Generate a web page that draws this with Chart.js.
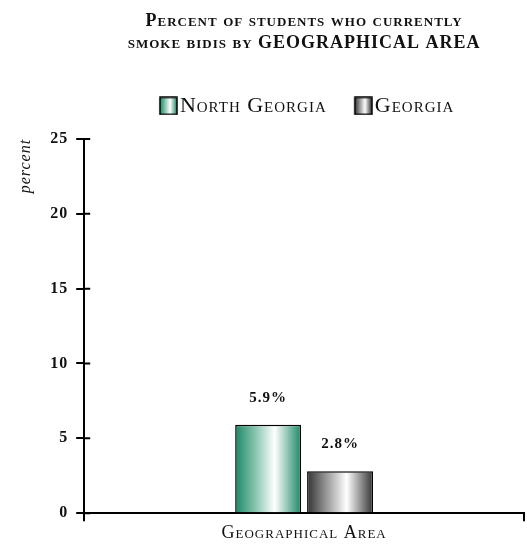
<!DOCTYPE html>
<html>
<head>
<meta charset="utf-8">
<script src="https://cdn.jsdelivr.net/npm/chart.js@4.4.1/dist/chart.umd.min.js"></script>
<style>
  html, body { margin: 0; padding: 0; background: #fff; }
  #wrap { width: 527px; height: 545px; }
</style>
</head>
<body>
<div id="wrap"><canvas id="bidiChart"></canvas></div>
<script>
// data
const areaLabels = ['Geographical Area'];
const northGeorgiaValues = [5.9];
const georgiaValues = [2.8];
const yMin = 0;
const yMax = 25;
const yStep = 5;

const serif = '"Liberation Serif", "DejaVu Serif", serif';

const greenStops = [[0, '#1b8866'], [0.3, '#86c3ad'], [0.6, '#ffffff'], [1, '#1b8866']];
const greyStops = [[0, '#333333'], [0.3, '#9a9a9a'], [0.6, '#ffffff'], [1, '#333333']];

// legend swatch, drawn at the right end of a wider transparent canvas
function legendSwatch(stops) {
  const c = document.createElement('canvas');
  c.width = 33; c.height = 19;
  const g = c.getContext('2d');
  const grad = g.createLinearGradient(15, 0, 32, 0);
  stops.forEach(s => grad.addColorStop(s[0], s[1]));
  g.fillStyle = grad;
  g.fillRect(15, 1, 17, 17);
  g.strokeStyle = '#000';
  g.lineWidth = 1.5;
  g.strokeRect(15, 1, 17, 17);
  return c;
}
const swatches = [legendSwatch(greenStops), legendSwatch(greyStops)];
const stopsByDataset = [greenStops, greyStops];

// wider letter spacing, like the small caps of the original
const spacing = {
  id: 'spacing',
  beforeUpdate(chart) { chart.ctx.letterSpacing = '1px'; },
  beforeLayout(chart) { chart.ctx.letterSpacing = '1px'; },
  beforeDraw(chart) { chart.ctx.letterSpacing = '1px'; }
};

// horizontal shading on each bar
const barShading = {
  id: 'barShading',
  beforeDatasetsDraw(chart) {
    const ctx = chart.ctx;
    chart.data.datasets.forEach((ds, i) => {
      chart.getDatasetMeta(i).data.forEach(bar => {
        const g = ctx.createLinearGradient(bar.x - bar.width / 2, 0, bar.x + bar.width / 2, 0);
        stopsByDataset[i].forEach(s => g.addColorStop(s[0], s[1]));
        bar.options = Object.assign({}, bar.options, { backgroundColor: g });
      });
    });
  }
};

// y tick marks also poke a little into the plot
const innerTicks = {
  id: 'innerTicks',
  afterDraw(chart) {
    const ctx = chart.ctx;
    const y = chart.scales.y;
    ctx.save();
    ctx.strokeStyle = '#000';
    ctx.lineWidth = 2;
    ctx.beginPath();
    y.ticks.forEach(t => {
      const py = y.getPixelForValue(t.value);
      ctx.moveTo(y.right, py);
      ctx.lineTo(y.right + 6, py);
    });
    ctx.stroke();
    ctx.restore();
  }
};

// percent labels above bars
const valueLabels = {
  id: 'valueLabels',
  afterDatasetsDraw(chart) {
    const ctx = chart.ctx;
    ctx.save();
    ctx.font = 'bold 15px ' + serif;
    ctx.fillStyle = '#111';
    ctx.textAlign = 'center';
    ctx.textBaseline = 'middle';
    chart.data.datasets.forEach((ds, i) => {
      chart.getDatasetMeta(i).data.forEach((bar, j) => {
        ctx.fillText(ds.data[j].toFixed(1) + '%', bar.x, bar.y - 27);
      });
    });
    ctx.restore();
  }
};

const data = {
  labels: areaLabels,
  datasets: [{
    label: 'North Georgia',
    data: northGeorgiaValues,
    backgroundColor: '#1b8866',
    borderColor: '#000',
    borderWidth: 1.5,
    categoryPercentage: 0.327,
    barPercentage: 0.917
  }, {
    label: 'Georgia',
    data: georgiaValues,
    backgroundColor: '#333',
    borderColor: '#000',
    borderWidth: 1.5,
    categoryPercentage: 0.327,
    barPercentage: 0.917
  }]
};

const config = {
  type: 'bar',
  data: data,
  plugins: [spacing, barShading, valueLabels, innerTicks],
  options: {
    responsive: true,
    maintainAspectRatio: false,
    animation: false,
    events: [],
    layout: { padding: { left: 16, right: 3, top: 9, bottom: 0 } },
    plugins: {
      title: {
        display: true,
        fullSize: false,
        text: ['Percent of students who currently', 'smoke bidis by GEOGRAPHICAL AREA'],
        color: '#111',
        font: { family: serif, size: 18, weight: 'small-caps bold', lineHeight: 1.22 },
        padding: { top: 1, bottom: 19 }
      },
      subtitle: {
        // empty spacer between legend and plot
        display: true,
        weight: 900,
        text: ' ',
        font: { size: 4, lineHeight: 1 },
        padding: { top: 0, bottom: 8 }
      },
      legend: {
        fullSize: false,
        labels: {
          usePointStyle: true,
          pointStyleWidth: 15,
          padding: 22,
          color: '#111',
          font: { family: serif, size: 22, weight: 'small-caps' },
          generateLabels: chart => chart.data.datasets.map((ds, i) => ({
            text: ds.label,
            pointStyle: swatches[i],
            fillStyle: '#fff',
            strokeStyle: '#000',
            lineWidth: 0,
            hidden: false,
            datasetIndex: i,
            fontColor: '#111'
          }))
        }
      },
      tooltip: { enabled: false }
    },
    scales: {
      x: {
        offset: true,
        border: { display: true, color: '#000', width: 2 },
        grid: { display: true, drawOnChartArea: false, offset: true, color: '#000', lineWidth: 2, tickLength: 8 },
        ticks: { color: '#111', padding: 2, font: { family: serif, size: 18, weight: 'small-caps', lineHeight: 1.1 } }
      },
      y: {
        min: yMin,
        max: yMax,
        border: { display: true, color: '#000', width: 2 },
        grid: { display: true, drawOnChartArea: false, color: '#000', lineWidth: 2, tickLength: 8 },
        ticks: { stepSize: yStep, color: '#111', padding: 8, font: { family: serif, size: 16, weight: 'bold' } },
        title: {
          display: true,
          text: 'percent',
          align: 'end',
          color: '#111',
          padding: { top: 0, bottom: 7 },
          font: { family: serif, size: 16, style: 'italic' }
        }
      }
    }
  }
};

const bidiChart = new Chart(document.getElementById('bidiChart'), config);
</script>
</body>
</html>
